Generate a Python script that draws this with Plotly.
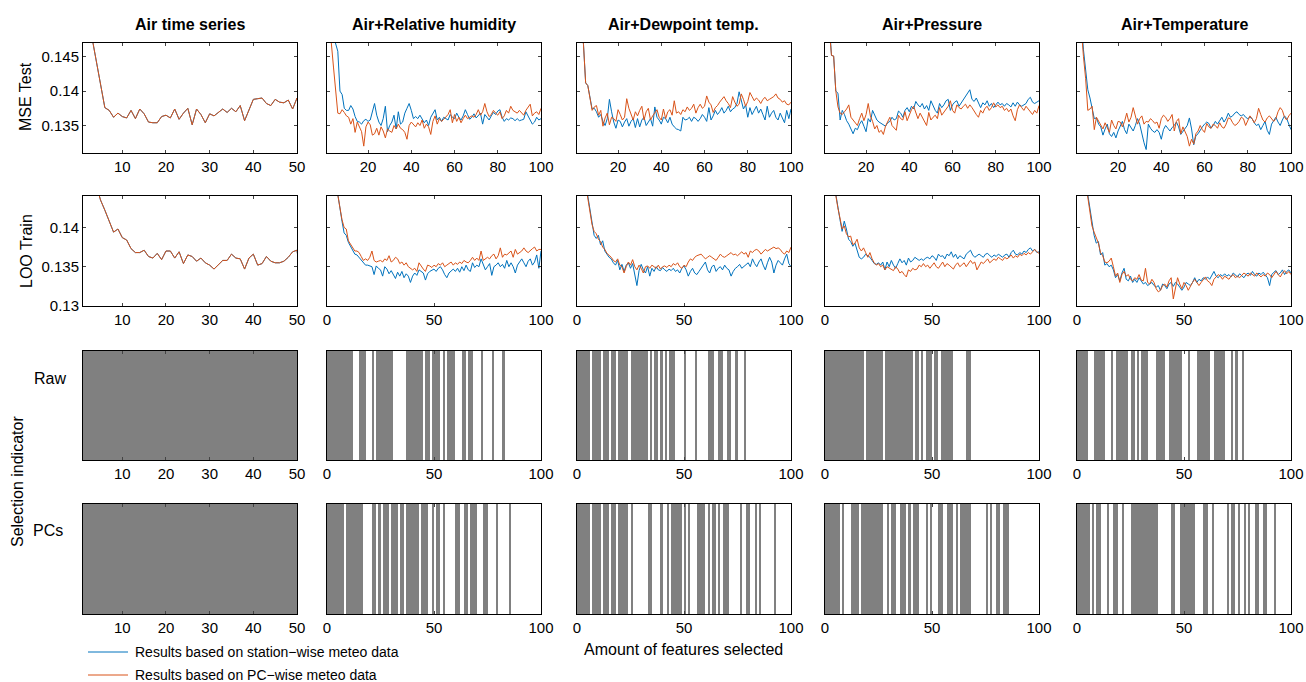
import plotly.graph_objects as go
from plotly.subplots import make_subplots

# ---------------- data ----------------
titles = ["Air time series", "Air+Relative humidity", "Air+Dewpoint temp.",
          "Air+Pressure", "Air+Temperature"]

# Air time series (both series coincide), x = 1..51
air_mse = [0.165, 0.155, 0.148, 0.1445, 0.141, 0.1376, 0.1372, 0.1362, 0.1368, 0.1363,
           0.1361, 0.1372, 0.1360, 0.1374, 0.1367, 0.1355, 0.1354, 0.1354, 0.1363, 0.1365,
           0.1361, 0.1374, 0.1359, 0.1368, 0.1375, 0.1351, 0.1374, 0.1366, 0.1354, 0.1367,
           0.1364, 0.1369, 0.1374, 0.1369, 0.1375, 0.1370, 0.1379, 0.1357, 0.1372, 0.1388,
           0.1389, 0.1390, 0.1382, 0.1379, 0.1388, 0.1384, 0.1383, 0.1387, 0.1374, 0.1390,
           0.1345]
air_loo = [0.160, 0.152, 0.148, 0.1455, 0.1435, 0.1422, 0.1408, 0.1394, 0.1398, 0.1387,
           0.1384, 0.1373, 0.1368, 0.1368, 0.1371, 0.1363, 0.1361, 0.1367, 0.1359, 0.1370,
           0.1370, 0.1361, 0.1369, 0.1354, 0.1365, 0.1363, 0.1357, 0.1361, 0.1355, 0.1352,
           0.1347, 0.1352, 0.1358, 0.1358, 0.1366, 0.1361, 0.1360, 0.1347, 0.1361, 0.1366,
           0.1352, 0.1354, 0.1363, 0.1357, 0.1355, 0.1355, 0.1357, 0.1362, 0.1369, 0.1371,
           0.1330]

# MSE Test, x = 1..100 (st = station-wise, pc = PC-wise)
mse_rh_st = [0.170, 0.160, 0.152, 0.148, 0.1467, 0.1458, 0.1400, 0.1395, 0.1375, 0.1372,
             0.1372, 0.1379, 0.1374, 0.1363, 0.1356, 0.1355, 0.1352, 0.1357, 0.1359, 0.1356,
             0.1358, 0.1370, 0.1382, 0.1365, 0.1355, 0.1350, 0.1360, 0.1378, 0.1341, 0.1350,
             0.1355, 0.1365, 0.1345, 0.1370, 0.1352, 0.1355, 0.1368, 0.1375, 0.1382, 0.1372,
             0.1360, 0.1363, 0.1360, 0.1365, 0.1360, 0.1354, 0.1358, 0.1350, 0.1362, 0.1368,
             0.1373, 0.1358, 0.1362, 0.1356, 0.1362, 0.1360, 0.1358, 0.1366, 0.1362, 0.1360,
             0.1368, 0.1362, 0.1358, 0.1364, 0.1373, 0.1366, 0.1359, 0.1362, 0.1367, 0.1361,
             0.1365, 0.1368, 0.1352, 0.1366, 0.1362, 0.1358, 0.1364, 0.1369, 0.1366, 0.1371,
             0.1373, 0.1362, 0.1356, 0.1360, 0.1358, 0.1361, 0.1360, 0.1357, 0.1360, 0.1357,
             0.1358, 0.1359, 0.1370, 0.1364, 0.1357, 0.1352, 0.1355, 0.1362, 0.1358, 0.1360]
mse_rh_pc = [0.165, 0.155, 0.147, 0.1435, 0.1405, 0.1368, 0.1367, 0.1373, 0.1369, 0.1364,
             0.1362, 0.1352, 0.1360, 0.1340, 0.1355, 0.1349, 0.1341, 0.1320, 0.1348, 0.1355,
             0.1351, 0.1336, 0.1338, 0.1346, 0.1336, 0.1348, 0.1342, 0.1332, 0.1345, 0.1342,
             0.1340, 0.1350, 0.1345, 0.1352, 0.1346, 0.1344, 0.1340, 0.1330, 0.1350, 0.1355,
             0.1352, 0.1348, 0.1354, 0.1350, 0.1358, 0.1346, 0.1352, 0.1348, 0.1337, 0.1356,
             0.1364, 0.1352, 0.1360, 0.1356, 0.1359, 0.1362, 0.1366, 0.1373, 0.1354, 0.1366,
             0.1356, 0.1362, 0.1354, 0.1360, 0.1365, 0.1360, 0.1362, 0.1364, 0.1362, 0.1366,
             0.1373, 0.1365, 0.1370, 0.1382, 0.1370, 0.1363, 0.1366, 0.1372, 0.1368, 0.1365,
             0.1370, 0.1360, 0.1364, 0.1372, 0.1368, 0.1378, 0.1372, 0.1370, 0.1368, 0.1372,
             0.1368, 0.1365, 0.1372, 0.1376, 0.1381, 0.1364, 0.1368, 0.1370, 0.1366, 0.1375]
mse_dew_st = [0.170, 0.160, 0.151, 0.1468, 0.1412, 0.1408, 0.1390, 0.1374, 0.1375, 0.1370,
              0.1362, 0.1366, 0.1356, 0.1350, 0.1360, 0.1388, 0.1370, 0.1355, 0.1346, 0.1358,
              0.1356, 0.1348, 0.1355, 0.1360, 0.1349, 0.1356, 0.1360, 0.1347, 0.1360, 0.1348,
              0.1358, 0.1362, 0.1350, 0.1356, 0.1360, 0.1349, 0.1377, 0.1362, 0.1358, 0.1352,
              0.1362, 0.1360, 0.1354, 0.1362, 0.1352, 0.1348, 0.1345, 0.1344, 0.1342, 0.1362,
              0.1358, 0.1359, 0.1362, 0.1356, 0.1362, 0.1360, 0.1356, 0.1360, 0.1366, 0.1362,
              0.1356, 0.1376, 0.1358, 0.1364, 0.1372, 0.1366, 0.1370, 0.1376, 0.1368, 0.1372,
              0.1378, 0.1370, 0.1374, 0.1376, 0.1382, 0.1399, 0.1388, 0.1374, 0.1380, 0.1362,
              0.1376, 0.1366, 0.1372, 0.1378, 0.1368, 0.1374, 0.1366, 0.1358, 0.1378, 0.1362,
              0.1368, 0.1372, 0.1362, 0.1358, 0.1368, 0.1362, 0.1354, 0.1372, 0.1360, 0.1374]
mse_dew_pc = [0.168, 0.158, 0.150, 0.1468, 0.1412, 0.1408, 0.1388, 0.1372, 0.1377, 0.1379,
              0.1365, 0.1372, 0.1349, 0.1361, 0.1368, 0.1351, 0.1362, 0.1360, 0.1356, 0.1373,
              0.1366, 0.1358, 0.1362, 0.1389, 0.1375, 0.1365, 0.1358, 0.1370, 0.1364, 0.1372,
              0.1378, 0.1358, 0.1370, 0.1375, 0.1358, 0.1364, 0.1368, 0.1373, 0.1362, 0.1358,
              0.1374, 0.1360, 0.1370, 0.1373, 0.1365, 0.1386, 0.1368, 0.1370, 0.1366, 0.1373,
              0.1370, 0.1377, 0.1372, 0.1375, 0.1381, 0.1368, 0.1376, 0.1381, 0.1375, 0.1378,
              0.1393, 0.1384, 0.1380, 0.1369, 0.1376, 0.1379, 0.1384, 0.1388, 0.1392, 0.1386,
              0.1382, 0.1376, 0.1392, 0.1384, 0.1378, 0.1381, 0.1396, 0.1388, 0.1378, 0.1385,
              0.1398, 0.1392, 0.1386, 0.1390, 0.1387, 0.1382, 0.1388, 0.1391, 0.1386, 0.1388,
              0.1390, 0.1392, 0.1396, 0.1390, 0.1388, 0.1384, 0.1386, 0.1381, 0.1380, 0.1384]
mse_pres_st = [0.168, 0.158, 0.150, 0.1452, 0.1451, 0.1400, 0.1397, 0.1358, 0.1372, 0.1366,
               0.1357, 0.1352, 0.1345, 0.1338, 0.1346, 0.1344, 0.1352, 0.1357, 0.1349, 0.1341,
               0.1360, 0.1355, 0.1372, 0.1366, 0.1358, 0.1355, 0.1353, 0.1352, 0.1349, 0.1354,
               0.1356, 0.1362, 0.1358, 0.1360, 0.1371, 0.1368, 0.1362, 0.1372, 0.1376, 0.1370,
               0.1378, 0.1374, 0.1385, 0.1380, 0.1377, 0.1382, 0.1374, 0.1379, 0.1372, 0.1386,
               0.1378, 0.1372, 0.1368, 0.1382, 0.1376, 0.1380, 0.1386, 0.1388, 0.1372, 0.1380,
               0.1384, 0.1386, 0.1378, 0.1383, 0.1388, 0.1394, 0.1398, 0.1402, 0.1388, 0.1385,
               0.1390, 0.1382, 0.1376, 0.1383, 0.1380, 0.1386, 0.1378, 0.1382, 0.1376, 0.1380,
               0.1384, 0.1380, 0.1382, 0.1378, 0.1382, 0.1380, 0.1377, 0.1383, 0.1378, 0.1384,
               0.1380, 0.1378, 0.1380, 0.1382, 0.1388, 0.1391, 0.1384, 0.1382, 0.1384, 0.1386]
mse_pres_pc = [0.166, 0.156, 0.149, 0.1452, 0.1451, 0.1400, 0.1377, 0.1368, 0.1366, 0.1370,
               0.1374, 0.1380, 0.1362, 0.1358, 0.1354, 0.1350, 0.1360, 0.1368, 0.1357, 0.1366,
               0.1382, 0.1364, 0.1356, 0.1345, 0.1350, 0.1340, 0.1343, 0.1337, 0.1349, 0.1355,
               0.1362, 0.1350, 0.1346, 0.1343, 0.1365, 0.1360, 0.1358, 0.1370, 0.1357, 0.1366,
               0.1373, 0.1378, 0.1370, 0.1360, 0.1368, 0.1362, 0.1356, 0.1350, 0.1369, 0.1358,
               0.1362, 0.1365, 0.1360, 0.1376, 0.1365, 0.1370, 0.1374, 0.1378, 0.1386, 0.1372,
               0.1368, 0.1380, 0.1376, 0.1374, 0.1378, 0.1381, 0.1375, 0.1380, 0.1376, 0.1370,
               0.1366, 0.1362, 0.1372, 0.1368, 0.1375, 0.1378, 0.1372, 0.1376, 0.1383, 0.1377,
               0.1380, 0.1376, 0.1378, 0.1372, 0.1375, 0.1370, 0.1374, 0.1364, 0.1357, 0.1373,
               0.1380, 0.1376, 0.1372, 0.1378, 0.1374, 0.1369, 0.1366, 0.1372, 0.1368, 0.1379]
mse_temp_st = [0.168, 0.158, 0.150, 0.1460, 0.1430, 0.1402, 0.1390, 0.1375, 0.1360, 0.1361,
               0.1352, 0.1348, 0.1336, 0.1345, 0.1352, 0.1338, 0.1334, 0.1340, 0.1332, 0.1342,
               0.1350, 0.1356, 0.1344, 0.1338, 0.1352, 0.1346, 0.1342, 0.1350, 0.1360, 0.1352,
               0.1338, 0.1325, 0.1315, 0.1352, 0.1346, 0.1342, 0.1340, 0.1344, 0.1340, 0.1330,
               0.1344, 0.1350, 0.1346, 0.1342, 0.1347, 0.1350, 0.1355, 0.1348, 0.1337, 0.1342,
               0.1346, 0.1350, 0.1361, 0.1345, 0.1322, 0.1335, 0.1338, 0.1344, 0.1348, 0.1352,
               0.1355, 0.1353, 0.1346, 0.1350, 0.1356, 0.1352, 0.1358, 0.1362, 0.1355, 0.1360,
               0.1368, 0.1362, 0.1364, 0.1368, 0.1370, 0.1366, 0.1364, 0.1366, 0.1362, 0.1360,
               0.1362, 0.1360, 0.1354, 0.1350, 0.1352, 0.1344, 0.1350, 0.1356, 0.1343, 0.1337,
               0.1352, 0.1358, 0.1362, 0.1355, 0.1350, 0.1358, 0.1364, 0.1360, 0.1352, 0.1344]
mse_temp_pc = [0.165, 0.156, 0.149, 0.1450, 0.1418, 0.1372, 0.1374, 0.1378, 0.1344, 0.1362,
               0.1356, 0.1350, 0.1345, 0.1354, 0.1348, 0.1340, 0.1358, 0.1350, 0.1345, 0.1356,
               0.1355, 0.1348, 0.1356, 0.1368, 0.1355, 0.1362, 0.1376, 0.1365, 0.1352, 0.1360,
               0.1364, 0.1352, 0.1356, 0.1355, 0.1360, 0.1357, 0.1353, 0.1355, 0.1346, 0.1360,
               0.1365, 0.1362, 0.1356, 0.1360, 0.1366, 0.1342, 0.1356, 0.1360, 0.1338, 0.1348,
               0.1340, 0.1334, 0.1320, 0.1330, 0.1323, 0.1338, 0.1342, 0.1350, 0.1344, 0.1340,
               0.1353, 0.1348, 0.1346, 0.1352, 0.1350, 0.1346, 0.1354, 0.1348, 0.1346, 0.1352,
               0.1361, 0.1360, 0.1354, 0.1350, 0.1352, 0.1356, 0.1362, 0.1360, 0.1350, 0.1356,
               0.1364, 0.1360, 0.1354, 0.1360, 0.1375, 0.1366, 0.1358, 0.1355, 0.1361, 0.1364,
               0.1360, 0.1356, 0.1360, 0.1370, 0.1376, 0.1372, 0.1362, 0.1358, 0.1364, 0.1368]

# LOO Train, x = 1..100
loo_rh_st = [0.159, 0.154, 0.150, 0.1462, 0.1443, 0.1424, 0.1408, 0.1393, 0.1390, 0.1381,
             0.1376, 0.1370, 0.1366, 0.1365, 0.1362, 0.1358, 0.1356, 0.1352, 0.1352, 0.1351,
             0.1350, 0.1340, 0.1351, 0.1348, 0.1346, 0.1338, 0.1350, 0.1347, 0.1341, 0.1345,
             0.1340, 0.1335, 0.1343, 0.1338, 0.1344, 0.1336, 0.1341, 0.1338, 0.1330, 0.1338,
             0.1342, 0.1339, 0.1346, 0.1344, 0.1342, 0.1333, 0.1341, 0.1344, 0.1346, 0.1347,
             0.1344, 0.1348, 0.1350, 0.1346, 0.1340, 0.1336, 0.1342, 0.1345, 0.1347, 0.1344,
             0.1348, 0.1343, 0.1350, 0.1345, 0.1352, 0.1346, 0.1344, 0.1355, 0.1349, 0.1352,
             0.1350, 0.1360, 0.1352, 0.1346, 0.1350, 0.1354, 0.1339, 0.1350, 0.1352, 0.1355,
             0.1350, 0.1353, 0.1348, 0.1358, 0.1350, 0.1355, 0.1350, 0.1342, 0.1352, 0.1356,
             0.1360, 0.1355, 0.1350, 0.1357, 0.1360, 0.1352, 0.1356, 0.1365, 0.1348, 0.1370]
loo_rh_pc = [0.158, 0.153, 0.149, 0.1460, 0.1442, 0.1425, 0.1410, 0.1400, 0.1398, 0.1383,
             0.1378, 0.1375, 0.1370, 0.1370, 0.1368, 0.1363, 0.1358, 0.1360, 0.1358, 0.1362,
             0.1370, 0.1358, 0.1356, 0.1357, 0.1358, 0.1356, 0.1360, 0.1358, 0.1364, 0.1356,
             0.1358, 0.1362, 0.1360, 0.1354, 0.1356, 0.1352, 0.1355, 0.1350, 0.1348, 0.1346,
             0.1348, 0.1344, 0.1355, 0.1350, 0.1347, 0.1344, 0.1352, 0.1351, 0.1349, 0.1352,
             0.1350, 0.1354, 0.1352, 0.1355, 0.1350, 0.1352, 0.1354, 0.1356, 0.1352, 0.1355,
             0.1353, 0.1356, 0.1354, 0.1358, 0.1356, 0.1355, 0.1358, 0.1362, 0.1358, 0.1361,
             0.1358, 0.1370, 0.1358, 0.1360, 0.1362, 0.1360, 0.1364, 0.1366, 0.1360, 0.1364,
             0.1374, 0.1362, 0.1366, 0.1365, 0.1368, 0.1370, 0.1362, 0.1372, 0.1366, 0.1368,
             0.1370, 0.1374, 0.1370, 0.1368, 0.1371, 0.1373, 0.1375, 0.1370, 0.1372, 0.1372]
loo_dew_st = [0.160, 0.153, 0.149, 0.1458, 0.1440, 0.1422, 0.1402, 0.1390, 0.1386, 0.1390,
              0.1378, 0.1383, 0.1370, 0.1366, 0.1362, 0.1360, 0.1355, 0.1352, 0.1358, 0.1346,
              0.1353, 0.1344, 0.1352, 0.1355, 0.1348, 0.1354, 0.1340, 0.1326, 0.1345, 0.1353,
              0.1346, 0.1342, 0.1350, 0.1338, 0.1348, 0.1344, 0.1350, 0.1346, 0.1345, 0.1349,
              0.1346, 0.1344, 0.1347, 0.1345, 0.1348, 0.1344, 0.1346, 0.1342, 0.1348, 0.1351,
              0.1346, 0.1338, 0.1344, 0.1348, 0.1342, 0.1340, 0.1344, 0.1348, 0.1351, 0.1356,
              0.1346, 0.1342, 0.1350, 0.1352, 0.1344, 0.1348, 0.1350, 0.1346, 0.1352, 0.1348,
              0.1346, 0.1338, 0.1344, 0.1348, 0.1350, 0.1353, 0.1348, 0.1350, 0.1352, 0.1355,
              0.1350, 0.1360, 0.1354, 0.1350, 0.1356, 0.1360, 0.1352, 0.1346, 0.1355, 0.1362,
              0.1356, 0.1342, 0.1352, 0.1358, 0.1355, 0.1352, 0.1360, 0.1366, 0.1354, 0.1350]
loo_dew_pc = [0.158, 0.152, 0.148, 0.1455, 0.1438, 0.1420, 0.1404, 0.1395, 0.1392, 0.1385,
              0.1382, 0.1375, 0.1372, 0.1367, 0.1365, 0.1362, 0.1358, 0.1356, 0.1360, 0.1352,
              0.1350, 0.1342, 0.1350, 0.1356, 0.1352, 0.1359, 0.1350, 0.1346, 0.1352, 0.1348,
              0.1342, 0.1350, 0.1351, 0.1348, 0.1352, 0.1350, 0.1348, 0.1352, 0.1347, 0.1350,
              0.1351, 0.1349, 0.1352, 0.1350, 0.1354, 0.1352, 0.1355, 0.1350, 0.1348, 0.1352,
              0.1350, 0.1356, 0.1360, 0.1358, 0.1362, 0.1364, 0.1365, 0.1366, 0.1363, 0.1360,
              0.1362, 0.1364, 0.1362, 0.1360, 0.1358, 0.1362, 0.1366, 0.1363, 0.1362, 0.1364,
              0.1366, 0.1368, 0.1365, 0.1366, 0.1364, 0.1367, 0.1369, 0.1366, 0.1368, 0.1362,
              0.1370, 0.1368, 0.1371, 0.1372, 0.1370, 0.1366, 0.1369, 0.1372, 0.1370, 0.1372,
              0.1374, 0.1375, 0.1373, 0.1374, 0.1372, 0.1368, 0.1366, 0.1370, 0.1368, 0.1375]
loo_pres_st = [0.160, 0.153, 0.149, 0.1460, 0.1442, 0.1426, 0.1410, 0.1395, 0.1408, 0.1398,
               0.1385, 0.1382, 0.1376, 0.1380, 0.1372, 0.1362, 0.1360, 0.1362, 0.1366, 0.1364,
               0.1362, 0.1358, 0.1354, 0.1353, 0.1355, 0.1352, 0.1356, 0.1346, 0.1356, 0.1350,
               0.1358, 0.1352, 0.1348, 0.1354, 0.1360, 0.1355, 0.1358, 0.1352, 0.1361, 0.1356,
               0.1358, 0.1362, 0.1360, 0.1358, 0.1360, 0.1358, 0.1361, 0.1362, 0.1360, 0.1364,
               0.1362, 0.1358, 0.1366, 0.1363, 0.1364, 0.1360, 0.1366, 0.1364, 0.1369, 0.1362,
               0.1366, 0.1360, 0.1364, 0.1362, 0.1360, 0.1366, 0.1369, 0.1371, 0.1365, 0.1362,
               0.1364, 0.1366, 0.1364, 0.1362, 0.1366, 0.1367, 0.1364, 0.1362, 0.1365, 0.1363,
               0.1366, 0.1364, 0.1362, 0.1365, 0.1366, 0.1362, 0.1368, 0.1371, 0.1366, 0.1365,
               0.1368, 0.1366, 0.1370, 0.1368, 0.1372, 0.1374, 0.1370, 0.1372, 0.1368, 0.1369]
loo_pres_pc = [0.158, 0.152, 0.148, 0.1458, 0.1440, 0.1425, 0.1412, 0.1398, 0.1402, 0.1392,
               0.1388, 0.1389, 0.1378, 0.1380, 0.1385, 0.1374, 0.1370, 0.1374, 0.1368, 0.1362,
               0.1368, 0.1360, 0.1355, 0.1352, 0.1354, 0.1350, 0.1352, 0.1346, 0.1350, 0.1348,
               0.1346, 0.1345, 0.1350, 0.1347, 0.1342, 0.1344, 0.1340, 0.1337, 0.1346, 0.1344,
               0.1348, 0.1346, 0.1347, 0.1352, 0.1350, 0.1354, 0.1350, 0.1352, 0.1348, 0.1351,
               0.1355, 0.1350, 0.1348, 0.1352, 0.1356, 0.1350, 0.1354, 0.1352, 0.1350, 0.1347,
               0.1352, 0.1355, 0.1350, 0.1353, 0.1355, 0.1350, 0.1354, 0.1358, 0.1354, 0.1356,
               0.1346, 0.1352, 0.1356, 0.1354, 0.1357, 0.1360, 0.1355, 0.1358, 0.1360, 0.1358,
               0.1362, 0.1360, 0.1358, 0.1362, 0.1360, 0.1362, 0.1365, 0.1361, 0.1364, 0.1362,
               0.1366, 0.1364, 0.1367, 0.1365, 0.1368, 0.1366, 0.1369, 0.1372, 0.1369, 0.1367]
loo_temp_st = [0.160, 0.153, 0.149, 0.1460, 0.1442, 0.1422, 0.1404, 0.1390, 0.1380, 0.1382,
               0.1365, 0.1368, 0.1352, 0.1354, 0.1350, 0.1352, 0.1346, 0.1336, 0.1340, 0.1332,
               0.1342, 0.1348, 0.1334, 0.1332, 0.1338, 0.1330, 0.1334, 0.1330, 0.1336, 0.1332,
               0.1328, 0.1330, 0.1326, 0.1328, 0.1330, 0.1326, 0.1324, 0.1326, 0.1320, 0.1328,
               0.1326, 0.1322, 0.1328, 0.1330, 0.1325, 0.1330, 0.1328, 0.1324, 0.1320, 0.1324,
               0.1330, 0.1328, 0.1326, 0.1330, 0.1336, 0.1330, 0.1334, 0.1332, 0.1336, 0.1334,
               0.1337, 0.1334, 0.1340, 0.1344, 0.1338, 0.1336, 0.1340, 0.1338, 0.1341, 0.1338,
               0.1340, 0.1337, 0.1342, 0.1340, 0.1337, 0.1341, 0.1338, 0.1336, 0.1340, 0.1342,
               0.1339, 0.1344, 0.1340, 0.1338, 0.1342, 0.1340, 0.1343, 0.1339, 0.1336, 0.1326,
               0.1340, 0.1343, 0.1345, 0.1340, 0.1342, 0.1346, 0.1340, 0.1344, 0.1346, 0.1342]
loo_temp_pc = [0.158, 0.152, 0.148, 0.1458, 0.1440, 0.1420, 0.1402, 0.1394, 0.1386, 0.1380,
               0.1368, 0.1364, 0.1356, 0.1355, 0.1357, 0.1361, 0.1350, 0.1338, 0.1342, 0.1330,
               0.1340, 0.1344, 0.1338, 0.1340, 0.1334, 0.1332, 0.1336, 0.1334, 0.1340, 0.1333,
               0.1332, 0.1348, 0.1330, 0.1328, 0.1334, 0.1330, 0.1322, 0.1318, 0.1320, 0.1326,
               0.1328, 0.1324, 0.1332, 0.1336, 0.1309, 0.1325, 0.1336, 0.1328, 0.1322, 0.1330,
               0.1326, 0.1320, 0.1326, 0.1330, 0.1334, 0.1330, 0.1326, 0.1330, 0.1334, 0.1337,
               0.1332, 0.1330, 0.1326, 0.1334, 0.1337, 0.1340, 0.1338, 0.1334, 0.1338, 0.1336,
               0.1334, 0.1338, 0.1340, 0.1336, 0.1338, 0.1336, 0.1339, 0.1342, 0.1340, 0.1338,
               0.1342, 0.1340, 0.1338, 0.1342, 0.1340, 0.1337, 0.1340, 0.1338, 0.1342, 0.1340,
               0.1336, 0.1340, 0.1344, 0.1340, 0.1337, 0.1342, 0.1345, 0.1341, 0.1344, 0.1340]

# Selection indicators (indices of selected features)
sel_air = [1, 2, 3, 4, 5, 6, 7, 8, 9, 10, 11, 12, 13, 14, 15, 16, 17, 18, 19, 20,
           21, 22, 23, 24, 25, 26, 27, 28, 29, 30, 31, 32, 33, 34, 35, 36, 37, 38, 39, 40,
           41, 42, 43, 44, 45, 46, 47, 48, 49, 50]
raw_rh = [1, 2, 3, 4, 5, 6, 7, 8, 9, 10, 11, 12, 16, 17, 18, 22, 24, 25, 26, 27, 28, 29, 30, 31,
          38, 39, 40, 41, 42, 43, 44, 45, 47, 48, 50, 51, 52, 53, 55, 57, 58, 59, 60, 64, 65,
          67, 68, 73, 78, 83]
raw_dew = [1, 2, 3, 4, 5, 6, 8, 9, 10, 11, 13, 14, 15, 17, 18, 20, 21, 22, 23, 24, 26, 27, 28,
           29, 30, 31, 32, 33, 35, 37, 38, 40, 42, 44, 45, 46, 51, 56, 62, 63, 64, 67, 68,
           71, 72, 75, 79]
raw_pres = [1, 2, 3, 4, 5, 6, 7, 8, 9, 10, 11, 12, 13, 14, 15, 16, 17, 18, 20, 21, 22, 23, 24,
            25, 26, 27, 29, 30, 31, 32, 33, 34, 35, 36, 37, 38, 39, 40, 41, 43, 44, 46, 48, 49,
            50, 52, 53, 55, 56, 57, 58, 59, 60, 67, 68]
raw_temp = [1, 2, 3, 4, 5, 9, 10, 11, 12, 13, 17, 19, 20, 21, 22, 23, 24, 26, 27, 29, 31, 32,
            33, 38, 39, 40, 41, 44, 45, 46, 47, 48, 49, 53, 57, 58, 59, 60, 61, 62, 65, 66,
            67, 68, 69, 73, 75, 78]
pcs_rh = [1, 2, 3, 4, 5, 6, 7, 8, 10, 11, 12, 13, 14, 15, 16, 17, 22, 23, 25, 27, 28, 29, 31,
          32, 33, 35, 36, 38, 39, 40, 41, 42, 43, 45, 46, 47, 50, 52, 53, 55, 61, 62, 65, 66,
          68, 69, 70, 74, 75, 80, 86]
pcs_dew = [1, 2, 3, 4, 5, 6, 8, 9, 10, 11, 13, 14, 15, 17, 18, 20, 21, 22, 23, 24, 26, 34, 35,
           40, 43, 45, 46, 47, 48, 49, 51, 53, 57, 58, 59, 60, 62, 64, 65, 67, 69, 70, 71,
           77, 80, 81, 84, 86, 93]
pcs_pres = [1, 2, 3, 4, 5, 6, 7, 9, 13, 14, 15, 16, 18, 19, 20, 21, 22, 23, 24, 25, 26, 27, 30,
            32, 33, 36, 37, 38, 40, 42, 43, 44, 48, 50, 54, 55, 58, 59, 60, 62, 64, 65, 66,
            67, 68, 76, 78, 81, 82, 84, 85, 86]
pcs_temp = [1, 2, 3, 4, 5, 6, 8, 10, 11, 15, 18, 19, 22, 26, 27, 28, 29, 30, 31, 32, 33, 34, 35,
            36, 37, 38, 45, 46, 49, 50, 51, 52, 53, 54, 55, 60, 61, 64, 71, 73, 74, 76, 79,
            81, 84, 85, 88, 89, 93]

mse_st = [air_mse, mse_rh_st, mse_dew_st, mse_pres_st, mse_temp_st]
mse_pc = [air_mse, mse_rh_pc, mse_dew_pc, mse_pres_pc, mse_temp_pc]
loo_st = [air_loo, loo_rh_st, loo_dew_st, loo_pres_st, loo_temp_st]
loo_pc = [air_loo, loo_rh_pc, loo_dew_pc, loo_pres_pc, loo_temp_pc]
raw_sel = [sel_air, raw_rh, raw_dew, raw_pres, raw_temp]
pcs_sel = [sel_air, pcs_rh, pcs_dew, pcs_pres, pcs_temp]

legend_labels = ["Results based on station\u2212wise meteo data",
                 "Results based on PC\u2212wise meteo data"]

# ---------------- styling / layout ----------------
W, H = 1306, 682
BLUE, ORANGE = "#0072BD", "#D95319"
FONT = "Liberation Sans, Arial, Helvetica, sans-serif"
col_px = [(83, 297), (327, 541), (577, 791), (825, 1039), (1077, 1291)]
row_px = [(43, 153), (196, 306), (351, 460), (504, 614)]

fig = make_subplots(rows=4, cols=5)

def ax_id(r, c):
    n = (r - 1) * 5 + c
    return "" if n == 1 else str(n)

for r in range(1, 5):
    for c in range(1, 6):
        ci = c - 1
        xd = [col_px[ci][0] / W, col_px[ci][1] / W]
        yd = [1 - row_px[r - 1][1] / H, 1 - row_px[r - 1][0] / H]
        if c == 1:
            xr, xt = [1, 50], [10, 20, 30, 40, 50]
        elif r == 1:
            xr, xt = [1, 100], [20, 40, 60, 80, 100]
        else:
            xr, xt = [0, 100], [0, 50, 100]
        fig.layout["xaxis" + ax_id(r, c)].update(
            domain=xd, range=xr, tickvals=xt, ticks="inside", ticklen=3,
            showline=True, linecolor="black", linewidth=1, mirror="ticks",
            showgrid=False, zeroline=False, automargin=False,
            tickfont=dict(size=15, color="black", family=FONT))
        if r == 1:
            yr, yt, ytt = [0.131, 0.147], [0.135, 0.14, 0.145], ["0.135", "0.14", "0.145"]
        elif r == 2:
            yr, yt, ytt = [0.13, 0.144], [0.13, 0.135, 0.14], ["0.13", "0.135", "0.14"]
        else:
            yr, yt, ytt = [0, 1], [], []
        fig.layout["yaxis" + ax_id(r, c)].update(
            domain=yd, range=yr, tickvals=yt, ticktext=ytt,
            ticks="inside" if r <= 2 else "", ticklen=3,
            showticklabels=(c == 1 and r <= 2),
            showline=True, linecolor="black", linewidth=1, mirror="ticks",
            showgrid=False, zeroline=False, automargin=False,
            tickfont=dict(size=15, color="black", family=FONT))

for c in range(1, 6):
    ci = c - 1
    n = len(mse_st[ci])
    xs = list(range(1, n + 1))
    for data_list, row in ((mse_st, 1), (loo_st, 2)):
        fig.add_trace(go.Scatter(x=xs, y=data_list[ci], mode="lines",
                                 line=dict(color=BLUE, width=1), showlegend=False,
                                 hoverinfo="skip"), row=row, col=c)
    for data_list, row in ((mse_pc, 1), (loo_pc, 2)):
        fig.add_trace(go.Scatter(x=xs, y=data_list[ci], mode="lines",
                                 line=dict(color=ORANGE, width=1), showlegend=False,
                                 hoverinfo="skip"), row=row, col=c)
    for sel, row in ((raw_sel[ci], 3), (pcs_sel[ci], 4)):
        fig.add_trace(go.Bar(x=[i - 0.5 for i in sel], y=[1] * len(sel), width=1,
                             marker=dict(color="#808080", line=dict(width=0)),
                             showlegend=False, hoverinfo="skip"), row=row, col=c)

def txt(s, x, y, angle=0, size=16, xanchor="center"):
    return dict(text=s, x=x / W, y=1 - y / H, xref="paper", yref="paper", showarrow=False,
                textangle=angle, xanchor=xanchor, yanchor="middle",
                font=dict(size=size, family=FONT, color="black"))

ann = [txt("<b>%s</b>" % t, (col_px[ci][0] + col_px[ci][1]) / 2, 25)
       for ci, t in enumerate(titles)]
ann += [txt("MSE Test", 26, 97, -90), txt("LOO Train", 26, 251, -90),
        txt("Raw", 50, 379), txt("PCs", 48, 530),
        txt("Selection indicator", 17, 482, -90),
        txt("Amount of features selected", 684, 649),
        txt(legend_labels[0], 133, 652, size=14, xanchor="left"),
        txt(legend_labels[1], 133, 675, size=14, xanchor="left")]

shapes = [dict(type="line", xref="paper", yref="paper", x0=88 / W, x1=128 / W,
               y0=1 - 652 / H, y1=1 - 652 / H, line=dict(color=BLUE, width=1)),
          dict(type="line", xref="paper", yref="paper", x0=88 / W, x1=128 / W,
               y0=1 - 675 / H, y1=1 - 675 / H, line=dict(color=ORANGE, width=1))]

fig.update_layout(width=W, height=H, margin=dict(l=0, r=0, t=0, b=0, pad=0),
                  paper_bgcolor="white", plot_bgcolor="white", annotations=ann,
                  shapes=shapes, bargap=0, barmode="overlay", showlegend=False,
                  font=dict(family=FONT, color="black"))
fig.write_html("out.html", config={"displayModeBar": False},
               post_script="document.body.style.margin='0px';")
